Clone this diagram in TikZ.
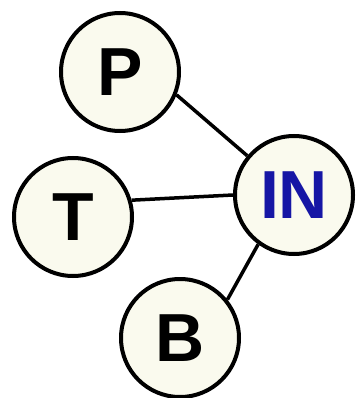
\documentclass[tikz,border=0pt]{standalone}
\usepackage{fontspec}
\setmainfont{Liberation Sans}
\definecolor{cream}{RGB}{250,250,238}
\definecolor{inblue}{RGB}{22,22,165}
\begin{document}
\begin{tikzpicture}[x=1pt,y=-1pt,
  ball/.style={circle,draw=black,line width=4pt,fill=cream,minimum size=118pt,inner sep=0pt,
    font=\fontsize{68}{68}\selectfont\bfseries},
  link/.style={line width=3.5pt,draw=black}]
\useasboundingbox (0,0) rectangle (357,398);
\node[ball] (P) at (120,72) {P};
\node[ball] (T) at (73,217) {T};
\node[ball] (B) at (180,338) {B};
\node[ball,text=inblue] (IN) at (294,195) {IN};
\draw[link] (P.-22) -- (IN.140.8);
\draw[link] (T.16.6) -- (IN.180);
\draw[link] (B.39.5) -- (IN.234.7);
\end{tikzpicture}
\end{document}
